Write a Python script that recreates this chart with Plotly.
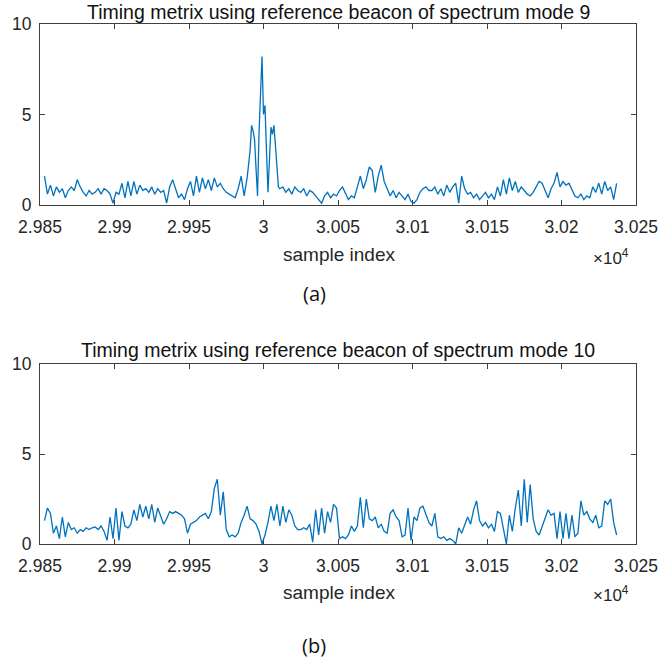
import plotly.graph_objects as go

# ---------------- data ----------------
# sample index positions (every 2 samples, with single-sample detail around the peak in (a))
x_a = list(range(29853, 29991, 2)) + list(range(29991, 30012)) + list(range(30013, 30238, 2))
y_a = [
    # 29853 .. 29989 (step 2)
    1.6, 0.6, 1.1, 0.5, 1.0, 0.7, 0.9, 0.4, 0.8, 1.0,
    0.8, 1.4, 1.0, 0.7, 0.5, 0.8, 0.6, 0.7, 0.9, 0.6,
    0.9, 0.8, 0.6, 0.1, 0.7, 0.6, 1.2, 0.4, 1.3, 0.5,
    1.3, 0.6, 1.1, 0.8, 0.9, 0.7, 1.0, 0.6, 0.9, 0.7,
    0.8, 0.1, 1.0, 1.4, 0.9, 0.4, 0.6, 0.3, 0.9, 1.3,
    0.5, 1.6, 0.7, 1.5, 0.9, 1.4, 0.8, 1.5, 1.0, 1.2,
    0.9, 0.7, 0.6, 0.5, 0.4, 0.9, 1.6, 0.5, 1.5,
    # 29991 .. 30011 (step 1)
    3.0, 4.4, 4.1, 3.6, 2.0, 0.5, 4.0, 5.8, 8.2, 5.0, 5.5,
    3.0, 0.7, 2.5, 4.3, 3.9, 4.4, 3.3, 2.0, 1.0, 0.9,
    # 30013 .. 30237 (step 2)
    1.0, 0.7, 0.9, 0.6, 1.0, 0.8, 0.7, 0.9, 0.5, 0.8,
    0.7, 0.5, 0.3, 0.1, 0.5, 0.7, 0.4, 0.6, 0.5, 0.8,
    1.0, 0.6, 0.3, 0.5, 0.4, 1.0, 1.6, 0.9, 1.4, 2.1,
    1.9, 0.7, 1.6, 2.2, 1.3, 0.9, 0.5, 0.8, 0.4, 0.7,
    0.5, 0.3, 0.6, 0.2, 0.1, 0.3, 0.7, 0.9, 1.0, 0.8,
    0.8, 1.0, 0.6, 0.9, 0.5, 1.1, 0.7, 1.0, 1.2, 0.1,
    1.6, 0.9, 0.6, 0.7, 0.4, 0.6, 0.3, 0.5, 0.7, 0.4,
    0.6, 0.3, 1.0, 0.5, 1.4, 0.6, 1.5, 0.8, 1.3, 0.7,
    1.0, 0.8, 0.6, 0.5, 0.7, 1.0, 1.3, 1.2, 0.8, 0.4,
    0.9, 1.2, 1.8, 1.0, 1.3, 1.1, 1.2, 0.8, 0.5, 0.4,
    0.6, 0.3, 0.5, 0.4, 1.0, 0.7, 1.2, 0.6, 1.3, 0.8,
    1.0, 0.3, 1.2,
]

x_b = list(range(29853, 30238, 2))
y_b = [
    1.3, 2.0, 1.7, 0.6, 1.0, 0.3, 1.5, 0.4, 1.2, 0.8,
    0.9, 0.6, 0.8, 0.7, 0.9, 0.8, 0.9, 0.95, 0.8, 1.0,
    0.7, 0.2, 1.5, 0.3, 2.0, 0.2, 1.8, 1.0, 0.9, 1.1,
    1.9, 1.3, 2.2, 1.5, 2.1, 1.4, 2.2, 1.2, 2.0, 1.6,
    1.1, 1.4, 1.8, 1.7, 1.8, 1.7, 1.6, 1.4, 0.6, 1.1,
    1.2, 1.3, 1.5, 1.6, 1.7, 1.4, 1.8, 3.1, 3.6, 1.6,
    2.9, 0.8, 0.4, 0.5, 0.4, 0.6, 1.2, 1.6, 2.1, 1.4,
    1.3, 1.1, 0.7, 0.0, 0.5, 1.2, 2.1, 1.3, 2.2, 1.0,
    2.1, 1.2, 1.9, 1.6, 1.0, 0.8, 0.8, 0.9, 0.8, 1.1,
    0.1, 1.9, 0.5, 2.0, 0.6, 1.8, 1.2, 2.2, 2.0, 0.3,
    0.4, 0.3, 0.5, 1.0, 0.7, 1.0, 2.6, 0.9, 2.5, 1.4,
    1.3, 1.5, 0.9, 1.1, 0.7, 0.6, 1.7, 1.9, 1.5, 1.3,
    0.4, 0.5, 2.0, 0.2, 1.5, 1.3, 2.0, 2.1, 1.6, 1.2,
    1.0, 1.7, 0.4, 0.3, 0.4, 0.2, 0.3, 0.2, 0.0, 0.9,
    0.6, 1.0, 1.5, 1.1, 1.9, 2.4, 1.3, 1.0, 1.2, 0.9,
    1.1, 0.7, 1.8, 1.7, 0.8, 0.0, 1.6, 0.7, 2.0, 3.0,
    1.0, 3.6, 1.2, 3.3, 1.4, 0.7, 0.5, 1.0, 1.5, 1.9,
    1.6, 1.7, 0.3, 1.8, 0.3, 1.7, 0.3, 1.6, 0.4, 0.6,
    2.4, 1.6, 1.8, 1.4, 1.2, 1.6, 0.9, 1.0, 2.4, 2.2,
    2.5, 1.2, 0.5,
]

x_tickvals = [29850, 29900, 29950, 30000, 30050, 30100, 30150, 30200, 30250]
x_ticktext = ["2.985", "2.99", "2.995", "3", "3.005", "3.01", "3.015", "3.02", "3.025"]
y_tickvals = [0, 5, 10]
y_ticktext = ["0", "5", "10"]

title_a = "Timing metrix using reference beacon of spectrum mode 9"
title_b = "Timing metrix using reference beacon of spectrum mode 10"
xlabel = "sample index"

# ---------------- layout helpers ----------------
W, H = 662, 666
def px(xp):
    return xp / W
def py(yp):
    return 1 - yp / H

LINE = "#0072BD"
AX = "#404040"
TXT = "#262626"
FONT = "Liberation Sans, Arial, sans-serif"

fig = go.Figure()
fig.add_trace(go.Scatter(x=x_a, y=y_a, mode="lines", line=dict(color=LINE, width=1.3),
                         xaxis="x", yaxis="y", showlegend=False))
fig.add_trace(go.Scatter(x=x_b, y=y_b, mode="lines", line=dict(color=LINE, width=1.3),
                         xaxis="x2", yaxis="y2", showlegend=False))

def xax(domain_anchor):
    return dict(domain=[px(40), px(636)], anchor=domain_anchor, range=[29850, 30250],
                tickvals=x_tickvals, ticktext=x_ticktext, ticks="inside", ticklen=5,
                tickcolor=AX, showline=True, linecolor=AX, linewidth=1, mirror="allticks",
                showgrid=False, zeroline=False, automargin=False,
                tickfont=dict(family=FONT, size=17.5, color=TXT),
                ticklabelstandoff=6)

def yax(top, bottom, anchor):
    return dict(domain=[py(bottom), py(top)], anchor=anchor, range=[0, 10],
                tickvals=y_tickvals, ticktext=y_ticktext, ticks="inside", ticklen=5,
                tickcolor=AX, showline=True, linecolor=AX, linewidth=1, mirror="allticks",
                showgrid=False, zeroline=False, automargin=False,
                tickfont=dict(family=FONT, size=17.5, color=TXT),
                ticklabelstandoff=4)

fig.update_layout(
    template="none",
    width=W, height=H, margin=dict(l=0, r=0, t=0, b=0, pad=0),
    paper_bgcolor="white", plot_bgcolor="white",
    xaxis=xax("y"), yaxis=yax(24, 205, "x"),
    xaxis2=xax("y2"), yaxis2=yax(364, 544, "x2"),
)

annots = [
    (338, 12, title_a, 19.5, FONT, "#111"),
    (338, 350, title_b, 19.5, FONT, "#111"),
    (339, 255, xlabel, 19, FONT, TXT),
    (339, 592, xlabel, 19, FONT, TXT),
    (611, 257, "\u00d710<sup>4</sup>", 17, FONT, TXT),
    (611, 594, "\u00d710<sup>4</sup>", 17, FONT, TXT),
    (314, 293, "(a)", 20, "Open Sans, sans-serif", "#111"),
    (314, 645, "(b)", 20, "Open Sans, sans-serif", "#111"),
]
for (xp, yp, t, s, fam, c) in annots:
    fig.add_annotation(x=px(xp), y=py(yp), xref="paper", yref="paper", text=t,
                       showarrow=False, xanchor="center", yanchor="middle",
                       font=dict(family=fam, size=s, color=c))

fig.write_html("out.html")
